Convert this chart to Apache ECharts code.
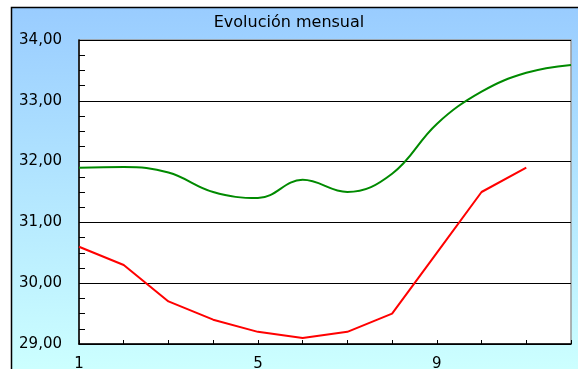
<!DOCTYPE html>
<html>
<head>
<meta charset="utf-8">
<script src="https://cdn.jsdelivr.net/npm/echarts@6/dist/echarts.min.js"></script>
<style>
html,body{margin:0;padding:0;background:#fff;}
#c{width:578px;height:369px;}
</style>
</head>
<body>
<div id="c"></div>
<script>
const titleText = 'Evolución mensual';
const months = [1, 2, 3, 4, 5, 6, 7, 8, 9, 10, 11, 12];
const redValues = [30.6, 30.3, 29.7, 29.4, 29.2, 29.1, 29.2, 29.5, 30.5, 31.5, 31.9];
const greenValues = [31.9, 31.91, 31.82, 31.5, 31.4, 31.7, 31.5, 31.8, 32.62, 33.15, 33.46, 33.59];
const xTickLabels = [1, 5, 9];
const yTickValues = [29, 30, 31, 32, 33, 34];

const redData = redValues.map((v, i) => [months[i], v]);
const greenData = greenValues.map((v, i) => [months[i], v]);

const chart = echarts.init(document.getElementById('c'), null, {renderer: 'canvas'});
const font = 'DejaVu Sans';
chart.setOption({
  animation: false,
  backgroundColor: '#ffffff',
  graphic: [{
    type: 'rect',
    z: -100,
    silent: true,
    shape: {x: 11.5, y: 7.5, width: 600, height: 400},
    style: {
      fill: new echarts.graphic.LinearGradient(0, 0, 0, 1, [
        {offset: 0, color: '#99ccff'},
        {offset: 0.9, color: '#ccffff'},
        {offset: 1, color: '#ccffff'}
      ]),
      stroke: '#000000',
      lineWidth: 1.5
    }
  }],
  title: {
    text: titleText,
    left: 'center',
    top: 10,
    textStyle: {fontFamily: font, fontSize: 16, fontWeight: 'normal', color: '#000'}
  },
  grid: {
    left: 79, top: 40, right: 7, bottom: 25,
    outerBoundsMode: 'none',
    containLabel: false,
    show: true,
    backgroundColor: '#ffffff',
    borderColor: '#999999',
    borderWidth: 1.5
  },
  xAxis: {
    type: 'value',
    min: 1, max: 12, interval: 1,
    axisLine: {show: true, onZero: false, lineStyle: {color: '#000', width: 1.5}},
    axisTick: {show: true, inside: true, length: 4, lineStyle: {color: '#000'}},
    splitLine: {show: false},
    axisLabel: {
      margin: 13,
      fontFamily: font, fontSize: 15, color: '#000',
      formatter: v => xTickLabels.includes(v) ? String(v) : ''
    }
  },
  yAxis: {
    type: 'value',
    min: 29, max: 34, interval: 1,
    axisLine: {show: true, lineStyle: {color: '#000', width: 1.5}},
    axisTick: {show: true, inside: true, length: 6, lineStyle: {color: '#000'}},
    minorTick: {show: true, splitNumber: 4, length: 6, lineStyle: {color: '#000'}},
    splitLine: {show: true, lineStyle: {color: '#000', width: 1}},
    axisLabel: {
      margin: 17,
      fontFamily: font, fontSize: 15, color: '#000',
      formatter: v => yTickValues.includes(v) ? v.toFixed(2).replace('.', ',') : ''
    }
  },
  series: [
    {
      type: 'line', data: greenData, smooth: 0.4, showSymbol: false,
      lineStyle: {color: '#008a00', width: 2}
    },
    {
      type: 'line', data: redData, smooth: false, showSymbol: false,
      lineStyle: {color: '#ff0000', width: 2}
    }
  ]
});
</script>
</body>
</html>
